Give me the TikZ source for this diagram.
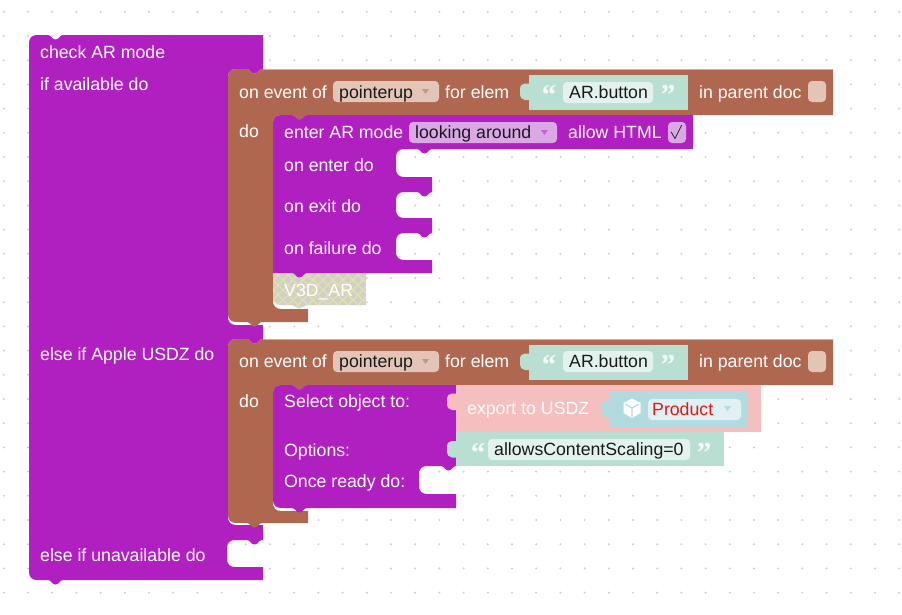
\documentclass[tikz,border=0pt]{standalone}
\usepackage{fontspec}
\setmainfont{Liberation Sans}
\newfontfamily\quotefont{Liberation Serif}
\definecolor{pur}{RGB}{176,32,192}
\definecolor{bro}{RGB}{176,103,79}
\definecolor{brorim}{RGB}{222,170,150}
\definecolor{tea}{RGB}{184,223,210}
\definecolor{teaf}{RGB}{227,242,237}
\definecolor{pinkc}{RGB}{245,191,191}
\definecolor{blu}{RGB}{178,219,224}
\definecolor{bluf}{RGB}{224,240,243}
\definecolor{brof}{RGB}{227,197,184}
\definecolor{purf}{RGB}{217,168,229}
\definecolor{dotc}{RGB}{205,205,205}
\definecolor{prod}{RGB}{224,24,24}
\definecolor{disbg}{RGB}{208,208,200}
\definecolor{dishatch}{RGB}{226,226,170}
% notch: left end at #1, on level #2 (dips downward)
\def\nr#1#2{-- (#1,#2) .. controls (#1+3,#2) and (#1+4,#2+4.5) .. (#1+7.5,#2+4.5) .. controls (#1+11,#2+4.5) and (#1+12,#2) .. (#1+15,#2)}
\def\nl#1#2{-- (#1+15,#2) .. controls (#1+12,#2) and (#1+11,#2+4.5) .. (#1+7.5,#2+4.5) .. controls (#1+4,#2+4.5) and (#1+3,#2) .. (#1,#2)}
% statement hole: left edge #1, notch start #2, right edge #3, top #4, bottom #5
\def\sth#1#2#3#4#5{-- (#3,#4) \nl{#2}{#4} -- (#1+8,#4) .. controls (#1+3,#4) and (#1,#4+3) .. (#1,#4+8) -- (#1,#5-8) .. controls (#1,#5-3) and (#1+3,#5) .. (#1+8,#5) -- (#3,#5)}
\def\brownblk#1#2#3#4{(236,#1) \nr{247}{#1} -- (833,#1) -- (833,#2) \nl{292}{#2} -- (281,#2) .. controls (276,#2) and (273,#2+3) .. (273,#2+8) -- (273,#3-8) .. controls (273,#3-3) and (276,#3) .. (281,#3) -- (308,#3) -- (308,#4) \nl{247}{#4} -- (236,#4) .. controls (231,#4) and (228,#4-3) .. (228,#4-8) -- (228,#1+8) .. controls (228,#1+3) and (231,#1) .. (236,#1) -- cycle}
% puzzle tab on the left of a block: right edge #1, top #2
\def\ptab#1#2{(#1,#2) -- (#1-4,#2) .. controls (#1-7,#2) and (#1-9,#2+2) .. (#1-9,#2+6) -- (#1-9,#2+10) .. controls (#1-9,#2+14) and (#1-7,#2+16.5) .. (#1-4,#2+16.5) -- (#1,#2+16.5) -- cycle}
\tikzset{
  lbl/.style={anchor=base west,inner sep=0pt,text=white,font=\fontsize{17.7}{20}\selectfont},
  val/.style={anchor=base west,inner sep=0pt,text=black!90,font=\fontsize{17.7}{20}\selectfont},
  pill/.style={rounded corners=4pt},
  qt/.style={anchor=base,inner sep=0pt,text=white,opacity=.85,font=\quotefont\bfseries\fontsize{29}{29}\selectfont},
}
\begin{document}
\begin{tikzpicture}[x=1pt,y=-1pt]
\useasboundingbox (0,0) rectangle (902,614);
\fill[white] (0,0) rectangle (902,614);
% dot grid
\foreach \i in {0,...,37}{\foreach \j in {0,...,24}{
  \fill[dotc] (3.8+24.2*\i,11.8+24.2*\j) circle[radius=1.1];}}
% main block
\fill[pur] (37,35) \nr{48}{35} -- (263,35) -- (263,69)
  \sth{228}{247}{263}{69}{325} -- (263,339)
  \sth{228}{247}{263}{339}{525} -- (263,540)
  \sth{227}{247}{263}{540}{567} -- (263,580) \nl{48}{580}
  -- (37,580) .. controls (32,580) and (29,577) .. (29,572) -- (29,43) .. controls (29,38) and (32,35) .. (37,35) -- cycle;
\node[lbl] (t1) at (40,58) {check AR mode};
\node[lbl] (t2) at (40,90) {if available do};
\node[lbl] (t3) at (40,360) {else if Apple USDZ do};
\node[lbl] (t4) at (40,561) {else if unavailable do};
% brown block 1
\fill[bro] \brownblk{69}{115}{309}{322};
\draw[brorim,line width=.8pt] (263,69) -- (833,69);
\node[lbl] (b1a) at (239,98) {on event of};
\fill[brof,pill] (333,81) rectangle (439,102);
\node[val] (b1b) at (339,98) {pointerup};
\fill[bro!70!white] (422,89) -- (429,89) -- (425.5,94) -- cycle;
\node[lbl] (b1c) at (445,98) {for elem};
\fill[tea] (529,75) rectangle (688,110);
\fill[tea] \ptab{529}{83.5};
\node[qt] (q1a) at (549,104) {“};
\fill[teaf,pill] (563,82) rectangle (653,103);
\node[val] (s1) at (569,98) {AR.button};
\node[qt] (q1b) at (668,104) {”};
\node[lbl] (b1d) at (699,98) {in parent doc};
\fill[brof,pill] (808,81) rectangle (826,102);
\node[lbl] (b1e) at (239,137) {do};
% disabled V3D block
\begin{scope}
\clip (273,270) -- (366,270) -- (366,305) -- (307,305) .. controls (305,305) and (303,308) .. (299.5,308.5) .. controls (296,308) and (294,305) .. (292,305) -- (281,305) .. controls (276,305) and (273,302) .. (273,297) -- cycle;
\fill[disbg] (273,270) rectangle (366,310);
\foreach \k in {-60,-50,...,130}{
  \draw[dishatch,line width=1.1pt] (273+\k,270) -- (273+\k+40,310);
  \draw[dishatch,line width=1.1pt] (273+\k+40,270) -- (273+\k,310);
}
\end{scope}
\node[lbl] (v3d) at (284,296) {V3D\_AR};
% enter AR block
\fill[pur] (281,115) \nr{292}{115} -- (693,115) -- (693,149)
  \sth{396}{417}{432}{149}{177} -- (432,192)
  \sth{396}{417}{432}{192}{218} -- (432,233)
  \sth{396}{417}{432}{233}{260} -- (432,273) \nl{292}{273}
  -- (273,273) -- (273,123) .. controls (273,118) and (276,115) .. (281,115) -- cycle;
\node[lbl] (e1) at (284,138) {enter AR mode};
\fill[purf,pill] (409,122) rectangle (557,143);
\node[val] (e2) at (415,138) {looking around};
\fill[pur!70!white] (541,130) -- (548,130) -- (544.5,135) -- cycle;
\node[lbl] (e3) at (568,138) {allow HTML};
\fill[purf,pill] (668,122) rectangle (686,143);
\draw[black!85,line width=.8pt] (671,131.7) -- (675,138.5) -- (681.7,125);
\node[lbl] (e4) at (284,171) {on enter do};
\node[lbl] (e5) at (284,212) {on exit do};
\node[lbl] (e6) at (284,254) {on failure do};
% brown block 2
\fill[bro] \brownblk{339}{385}{511}{523};
\draw[brorim,line width=.8pt] (263,339) -- (833,339);
\node[lbl] (b2a) at (239,367) {on event of};
\fill[brof,pill] (333,351) rectangle (439,372);
\node[val] (b2b) at (339,367) {pointerup};
\fill[bro!70!white] (422,359) -- (429,359) -- (425.5,364) -- cycle;
\node[lbl] (b2c) at (445,367) {for elem};
\fill[tea] (529,345) rectangle (688,380);
\fill[tea] \ptab{529}{353.5};
\node[qt] (q2a) at (549,374) {“};
\fill[teaf,pill] (563,351) rectangle (653,372);
\node[val] (s2) at (569,367) {AR.button};
\node[qt] (q2b) at (668,374) {”};
\node[lbl] (b2d) at (699,367) {in parent doc};
\fill[brof,pill] (808,351) rectangle (826,372);
\node[lbl] (b2e) at (239,407) {do};
% select object block
\fill[pur] (281,385) \nr{292}{385} -- (456,385)
  \sth{419}{441}{456}{466}{494} -- (456,508) \nl{292}{508}
  -- (281,508) .. controls (276,508) and (273,505) .. (273,500) -- (273,393) .. controls (273,388) and (276,385) .. (281,385) -- cycle;
\node[lbl] (p1) at (284,407.5) {Select object to:};
\node[lbl] (p2) at (284,456) {Options:};
\node[lbl] (p3) at (284,487.5) {Once ready do:};
% pink block
\fill[pinkc] (456,385) rectangle (761,432);
\fill[pinkc] \ptab{456}{393.5};
\node[lbl] (u1) at (467,414) {export to USDZ};
\fill[blu] (610,392) rectangle (748,427);
\fill[blu] \ptab{610}{400.5};
% cube icon
\fill[white] (632,398.5) -- (640.5,403) -- (640.5,413) -- (632,418) -- (623.5,413) -- (623.5,403) -- cycle;
\draw[blu,line width=1.1pt] (625,404) -- (632,408) -- (639,404) (632,408) -- (632,417);
\fill[bluf,pill] (648,399) rectangle (741,420);
\node[anchor=base west,inner sep=0pt,text=prod,font=\fontsize{17.7}{20}\selectfont] (u2) at (652,415.5) {Product};
\fill[blu] (724,406) -- (731,406) -- (727.5,411) -- cycle;
% teal options block
\fill[tea] (456,432) rectangle (724,466);
\fill[tea] \ptab{456}{441};
\node[qt] (q3a) at (478,462) {“};
\fill[teaf,pill] (488,439) rectangle (690,460);
\node[val] (o1) at (494,455) {allowsContentScaling=0};
\node[qt] (q3b) at (704,462) {”};
\end{tikzpicture}
\end{document}
